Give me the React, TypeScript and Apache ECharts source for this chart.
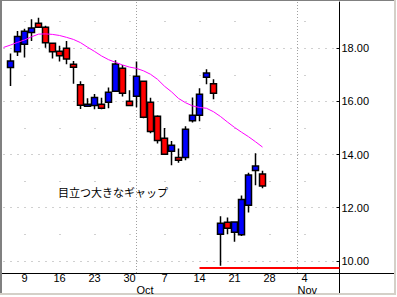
import React, { useEffect, useRef } from "react";
import * as echarts from "echarts";

// Trading days (2002), MM-DD
const tradingDays = [
  "09-04", "09-05", "09-06", "09-09", "09-10", "09-11", "09-12", "09-13",
  "09-16", "09-17", "09-18", "09-19", "09-20", "09-23", "09-24", "09-25",
  "09-26", "09-27", "09-30",
  "10-01", "10-02", "10-03", "10-04", "10-07", "10-08", "10-09", "10-10",
  "10-11", "10-14", "10-15", "10-16", "10-17", "10-18", "10-21", "10-22",
  "10-23", "10-24", "10-25", "10-28", "10-29", "10-30", "10-31",
  "11-01", "11-04", "11-05", "11-06", "11-07", "11-08", "11-11",
];
const weekLabelDays = ["09-09", "09-16", "09-23", "09-30", "10-07", "10-14", "10-21", "10-28", "11-04"];
const monthStartDays = ["10-01", "11-01"];
const monthNames = ["Oct", "Nov"];

const firstCandleDay = "09-05";
const openPrices = [
  17.27, 17.87, 18.15, 18.59, 18.94, 18.79, 18.19, 17.89, 18.0, 17.4,
  16.63, 15.82, 15.84, 15.89, 15.97, 16.38, 17.25, 16.0, 16.19, 16.76,
  15.97, 15.44, 14.61, 14.12, 13.89, 13.89, 15.27, 15.48, 16.91, 16.66,
  11.0, 11.45, 11.07, 10.98, 12.09, 13.4, 13.27,
];
const closePrices = [
  17.52, 18.44, 18.64, 18.76, 18.79, 18.21, 17.87, 17.72, 17.59, 17.28,
  15.85, 15.89, 16.15, 15.74, 16.34, 17.41, 16.31, 15.84, 16.95, 15.4,
  14.87, 14.53, 14.01, 14.35, 13.78, 14.95, 15.48, 16.27, 17.07, 16.31,
  11.41, 11.22, 11.46, 12.31, 13.23, 13.57, 12.81,
];
const lowPrices = [
  16.58, 17.71, 17.65, 18.27, 18.79, 18.02, 17.61, 17.5, 17.4, 16.66,
  15.71, 15.8, 15.7, 15.7, 15.74, 16.36, 16.18, 15.84, 15.78, 15.36,
  14.8, 14.41, 14.0, 13.6, 13.69, 13.78, 15.2, 15.25, 16.64, 16.08,
  9.81, 11.0, 10.72, 10.93, 11.82, 12.84, 12.73,
];
const highPrices = [
  17.8, 18.65, 18.73, 19.09, 19.15, 18.85, 18.22, 18.09, 18.27, 17.52,
  16.76, 16.12, 16.28, 16.14, 16.52, 17.55, 17.37, 16.42, 17.5, 16.79,
  16.14, 15.48, 15.0, 14.51, 14.23, 15.06, 16.15, 16.49, 17.21, 16.83,
  11.68, 11.63, 11.48, 12.46, 13.31, 14.05, 13.39,
];

// Moving average, starting at first trading day
const movingAverage = [
  18.03, 18.12, 18.22, 18.31, 18.43, 18.53, 18.54, 18.52, 18.48, 18.41,
  18.33, 18.21, 18.04, 17.88, 17.71, 17.57, 17.47, 17.37, 17.29, 17.24,
  17.15, 17.02, 16.83, 16.57, 16.36, 16.11, 15.95, 15.83, 15.77, 15.74,
  15.61, 15.43, 15.22, 15.02, 14.84, 14.67, 14.48, 14.28,
];

const yLabelValues = [10, 12, 14, 16, 18];
const yMinorValues = [11, 13, 15, 17, 19];
const yMin = 9.54;
const yMax = 19.74;

const gapLevel = 9.75;
const gapStartDay = "10-14";
const annotation = "目立つ大きなギャップ";

export default function App() {
  const ref = useRef<HTMLDivElement>(null);

  useEffect(() => {
    if (!ref.current) return;
    const chart = echarts.init(ref.current, undefined, { renderer: "svg" });

    const startIdx = tradingDays.indexOf(firstCandleDay);
    const candleData: any[] = tradingDays.map((_, i) => {
      const j = i - startIdx;
      if (j < 0 || j >= openPrices.length) return "-";
      return [openPrices[j], closePrices[j], lowPrices[j], highPrices[j]];
    });

    const weekSet = new Set(weekLabelDays);
    const monthSet = new Set(monthStartDays);
    const font = "'Liberation Sans', Arial, sans-serif";

    chart.setOption({
      animation: false,
      backgroundColor: "#ffffff",
      textStyle: { fontFamily: font },
      grid: { left: 3.5, right: 57.5, top: 2, bottom: 24, containLabel: false },
      xAxis: [
        {
          type: "category",
          data: tradingDays,
          boundaryGap: false,
          axisLine: { show: true, onZero: false, lineStyle: { color: "#000", width: 1 } },
          axisTick: { show: false },
          axisLabel: {
            interval: (_i: number, v: string) => weekSet.has(v),
            formatter: (v: string) => String(Number(v.slice(3))),
            color: "#000",
            fontSize: 11,
            lineHeight: 10,
            fontFamily: font,
            margin: 0,
          },
          splitLine: { show: false },
        },
        {
          type: "category",
          data: tradingDays,
          boundaryGap: false,
          position: "bottom",
          axisLine: { show: false, onZero: false },
          axisTick: { show: false },
          axisLabel: {
            interval: (_i: number, v: string) => monthSet.has(v),
            formatter: (v: string) => monthNames[monthStartDays.indexOf(v)] || "",
            align: "left",
            color: "#000",
            fontSize: 11,
            lineHeight: 10,
            fontFamily: font,
            margin: 12,
          },
          splitLine: {
            show: true,
            interval: (_i: number, v: string) => monthSet.has(v),
            lineStyle: { color: "#a0a0a0", type: [1, 2], width: 1 },
          },
        },
      ],
      yAxis: [
        {
          type: "value",
          position: "right",
          min: yMin,
          max: yMax,
          axisLine: { show: true, lineStyle: { color: "#000", width: 1 } },
          axisTick: {
            show: true,
            inside: true,
            length: 3,
            customValues: yLabelValues,
            lineStyle: { color: "#000" },
          },
          axisLabel: {
            customValues: yLabelValues,
            formatter: (v: number) => v.toFixed(2),
            color: "#000",
            fontSize: 11,
            fontFamily: font,
            margin: 2,
          },
          splitLine: {
            show: true,
            lineStyle: { color: "#a0a0a0", type: [1, 6], width: 1 },
          },
        },
        {
          type: "value",
          position: "right",
          min: yMin,
          max: yMax,
          axisLine: { show: false },
          axisTick: { show: false, customValues: yMinorValues },
          axisLabel: { show: false, customValues: yMinorValues },
          splitLine: {
            show: true,
            lineStyle: { color: "#a0a0a0", type: [1, 34], dashOffset: 14, width: 1 },
          },
        },
      ],
      series: [
        {
          type: "candlestick",
          xAxisIndex: 0,
          yAxisIndex: 0,
          data: candleData,
          barWidth: 6,
          itemStyle: {
            color: "#0000ff",
            color0: "#ff0000",
            borderColor: "#000",
            borderColor0: "#000",
            borderWidth: 1.5,
          },
          markLine: {
            silent: true,
            symbol: ["none", "none"],
            label: { show: false },
            lineStyle: { color: "#ff0000", width: 2, type: "solid" },
            data: [
              [
                { coord: [gapStartDay, gapLevel] },
                { coord: [tradingDays[tradingDays.length - 1], gapLevel] },
              ],
            ],
          },
        },
        {
          type: "line",
          xAxisIndex: 0,
          yAxisIndex: 0,
          data: movingAverage,
          showSymbol: false,
          symbol: "none",
          lineStyle: { color: "#ff00ff", width: 1 },
          itemStyle: { color: "#ff00ff" },
        },
      ],
      graphic: [
        {
          type: "text",
          left: 58,
          top: 186,
          style: {
            text: annotation,
            fontSize: 11,
            fontFamily: "'Noto Sans CJK JP', sans-serif",
            fill: "#000",
          },
        },
        // window frame
        { type: "rect", shape: { x: 0, y: 0, width: 2, height: 294 }, style: { fill: "#808080" } },
        { type: "rect", shape: { x: 0, y: 0, width: 395, height: 1 }, style: { fill: "#808080" } },
        { type: "rect", shape: { x: 394, y: 0, width: 2, height: 295 }, style: { fill: "#d4d0c8" } },
        { type: "rect", shape: { x: 0, y: 293, width: 396, height: 2 }, style: { fill: "#d4d0c8" } },
        // axis line extensions
        { type: "line", shape: { x1: 2, y1: 273.5, x2: 394, y2: 273.5 }, style: { stroke: "#000", lineWidth: 1 } },
        { type: "line", shape: { x1: 339.5, y1: 273, x2: 339.5, y2: 293 }, style: { stroke: "#000", lineWidth: 1 } },
      ],
    });

    return () => chart.dispose();
  }, []);

  return (
    <div
      ref={ref}
      style={{ position: "fixed", left: 0, top: 0, width: 397, height: 297 }}
    />
  );
}
